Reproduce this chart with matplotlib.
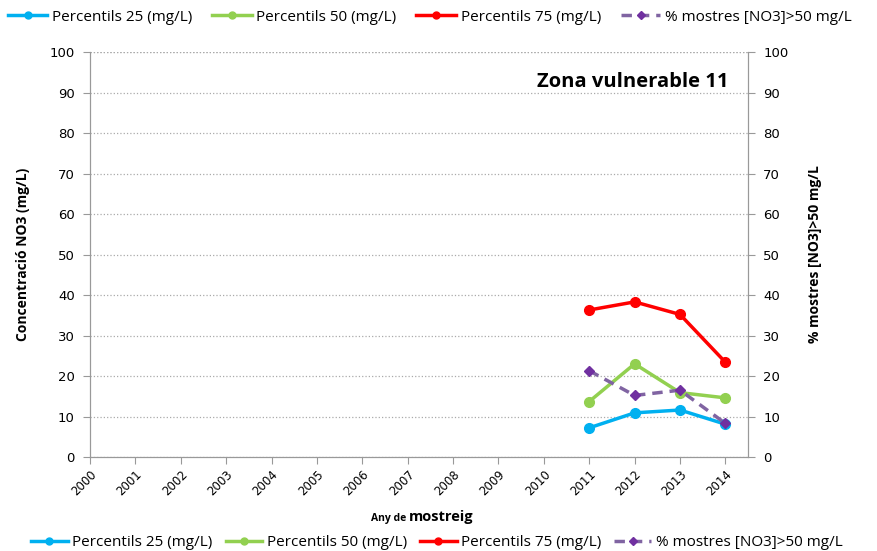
import matplotlib
matplotlib.use('Agg')
import matplotlib.pyplot as plt
from matplotlib.lines import Line2D

# years on the category axis
years = list(range(2000, 2015))
sample_years = [2011, 2012, 2013, 2014]

# values
p25 = [7.2, 10.9, 11.6, 8.1]
p50 = [13.7, 23.0, 15.9, 14.6]
p75 = [36.3, 38.3, 35.2, 23.4]
pct_over50 = [21.3, 15.2, 16.5, 8.3]

labels = ['Percentils 25 (mg/L)', 'Percentils 50 (mg/L)',
          'Percentils 75 (mg/L)', '% mostres [NO3]>50 mg/L']
colors = ['#00B0F0', '#92D050', '#FF0000', '#8064A2']

plt.rcParams['font.family'] = ['Open Sans', 'DejaVu Sans']

fig = plt.figure(figsize=(8.77, 5.51), dpi=100)
ax = fig.add_axes([0.1026, 0.1706, 0.853 - 0.1026, 0.9056 - 0.1706])
ax2 = ax.twinx()

ax.plot(sample_years, p25, color=colors[0], lw=2.5, marker='o', ms=7, zorder=3)
ax.plot(sample_years, p50, color=colors[1], lw=2.5, marker='o', ms=7, zorder=3)
ax.plot(sample_years, p75, color=colors[2], lw=2.5, marker='o', ms=7, zorder=3)
ax2.plot(sample_years, pct_over50, color=colors[3], lw=2.5, ls=(0, (3, 2)),
         marker='D', ms=5, mfc='#7030A0', mec='#7030A0', zorder=3)

for a in (ax, ax2):
    a.set_ylim(0, 100)
    a.set_yticks(range(0, 101, 10))
    a.set_xlim(2000, 2014.5)
    for s in a.spines.values():
        s.set_color('#999999')
    a.spines['top'].set_visible(False)
    a.tick_params(axis='y', length=5, color='#999999', labelsize=9.5, pad=6)
    for t in a.get_yticklabels():
        t.set_family('DejaVu Sans')

ax.grid(axis='y', color='#aaaaaa', ls=':', lw=0.9)
ax.axhline(100, color='#aaaaaa', ls=':', lw=0.9)
ax.set_xticks(years)
ax.set_xticklabels([str(y) for y in years], rotation=45, ha='right',
                   rotation_mode='anchor', fontsize=8.5, family='DejaVu Sans')
ax.tick_params(axis='x', length=5, color='#999999', pad=3)

ax.set_ylabel('Concentració NO3 (mg/L)', fontsize=10, fontweight='bold', labelpad=14)
ax2.set_ylabel('% mostres [NO3]>50 mg/L', fontsize=10, fontweight='bold', labelpad=14)

# x label: "Any de" small, "mostreig" larger
fig.text(406 / 877, 1 - 518 / 551, 'Any de', ha='right', va='center',
         fontsize=7.5, fontweight='bold')
fig.text(409 / 877, 1 - 517 / 551, 'mostreig', ha='left', va='center',
         fontsize=10.5, fontweight='bold')

ax.text(0.97, 0.95, 'Zona vulnerable 11', transform=ax.transAxes, ha='right',
        va='top', fontsize=14.5, fontweight='bold')

handles = [Line2D([], [], color=colors[0], lw=2.5, marker='o', ms=5),
           Line2D([], [], color=colors[1], lw=2.5, marker='o', ms=5),
           Line2D([], [], color=colors[2], lw=2.5, marker='o', ms=5),
           Line2D([], [], color=colors[3], lw=2.5, ls=(0, (3, 2)),
                  marker='D', ms=4, mfc='#7030A0', mec='#7030A0')]

fig.legend(handles, labels, loc='center', bbox_to_anchor=(0.49, 0.969), ncol=4,
           frameon=False, fontsize=11, handlelength=2.6, columnspacing=1.3,
           handletextpad=0.3)
fig.legend(handles, labels, loc='center', bbox_to_anchor=(0.498, 0.015), ncol=4,
           frameon=False, fontsize=11, handlelength=2.4, columnspacing=0.85,
           handletextpad=0.3)

fig.savefig('out.png', dpi=100)
